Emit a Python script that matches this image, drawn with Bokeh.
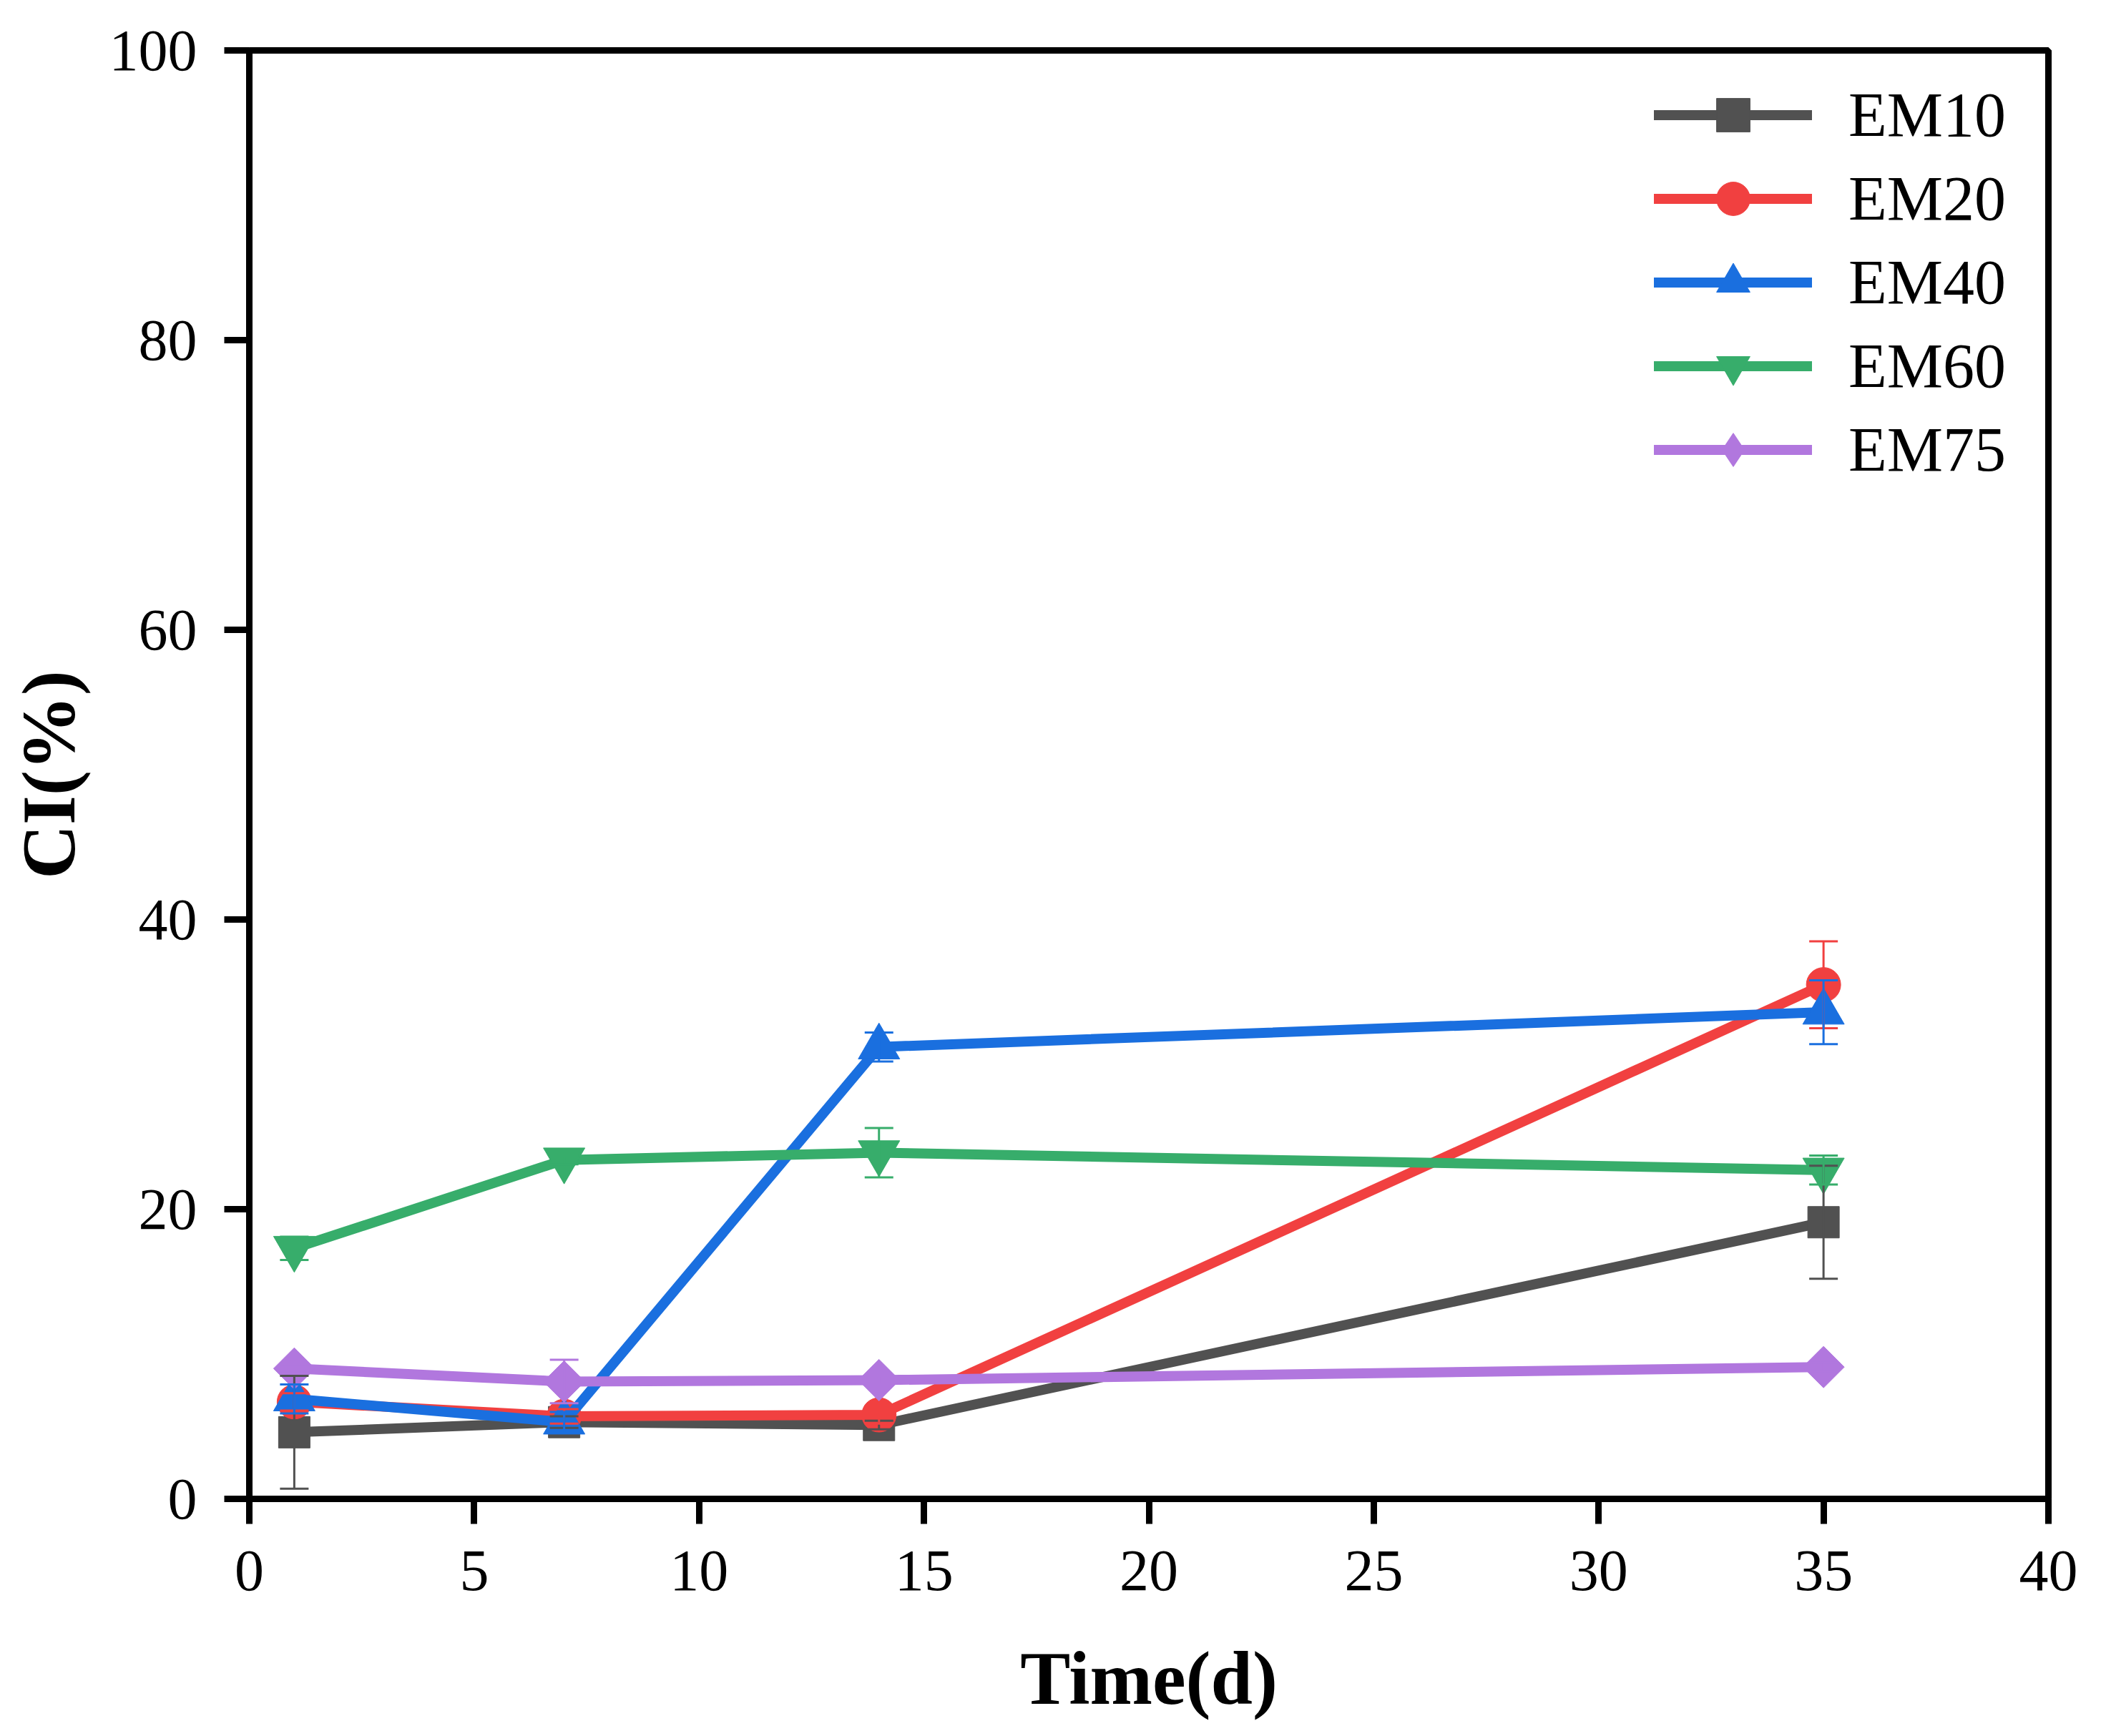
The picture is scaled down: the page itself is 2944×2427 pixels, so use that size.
import math
from bokeh.plotting import figure
from bokeh.models import ColumnDataSource, Whisker, TeeHead, FixedTicker, Range1d, Legend
from bokeh.embed import file_html
from bokeh.resources import INLINE

# ---- data ----
days = [1, 7, 14, 35]
series_names = ["EM10", "EM20", "EM40", "EM60", "EM75"]
em10 = [4.6, 5.3, 5.1, 19.1]
em20 = [6.7, 5.7, 5.8, 35.5]
em40 = [6.9, 5.3, 31.2, 33.6]
em60 = [17.3, 23.4, 23.9, 22.7]
em75 = [9.0, 8.1, 8.2, 9.1]
em10_err = [3.9, 0.4, 0.3, 3.9]
em20_err = [0.6, 0.5, 0.6, 3.0]
em40_err = [1.0, 0.7, 1.0, 2.2]
em60_err = [0.8, 0.3, 1.7, 1.0]
em75_err = [0.3, 1.5, 0.3, 0.3]
x_ticks = [0, 5, 10, 15, 20, 25, 30, 35, 40]
y_ticks = [0, 20, 40, 60, 80, 100]

values = [em10, em20, em40, em60, em75]
errors = [em10_err, em20_err, em40_err, em60_err, em75_err]
colors = ["#515151", "#F14040", "#1A6FDF", "#37AD6B", "#B177DE"]
markers = ["square", "circle", "triangle", "inverted_triangle", "square"]
legend_markers = ["square", "circle", "triangle", "inverted_triangle", "diamond"]
msizes = [44, 48, 58, 58, 41]
angles = [0, 0, 0, 0, math.pi / 4]

FONT = "Liberation Serif"

W, H = 2928, 2411
p = figure(width=W, height=H, output_backend="svg", toolbar_location=None,
           x_range=Range1d(0, 40), y_range=Range1d(0, 100),
           min_border_left=348, min_border_right=65, min_border_top=70, min_border_bottom=316)

p.grid.visible = False
p.outline_line_color = "black"
p.outline_line_width = 9
p.background_fill_color = "white"
p.border_fill_color = "white"

for ax, ticks in ((p.xaxis[0], x_ticks), (p.yaxis[0], y_ticks)):
    ax.ticker = FixedTicker(ticks=ticks)
    ax.axis_line_width = 9
    ax.axis_line_color = "black"
    ax.major_tick_line_width = 9
    ax.major_tick_line_color = "black"
    ax.major_tick_out = 35
    ax.major_tick_in = 0
    ax.minor_tick_line_color = None
    ax.major_label_text_font = FONT
    ax.major_label_text_font_size = "82px"
    ax.major_label_text_color = "black"
    ax.axis_label_text_font = FONT
    ax.axis_label_text_font_size = "105px"
    ax.axis_label_text_font_style = "bold"
    ax.axis_label_text_color = "black"

p.xaxis.axis_label = "Time(d)"
p.yaxis.axis_label = "CI(%)"
p.xaxis.major_label_standoff = 38
p.yaxis.major_label_standoff = 38
p.xaxis.axis_label_standoff = 62
p.yaxis.axis_label_standoff = 23

legend_items = []
for name, vals, errs, col, mk, lmk, ms, ang in zip(series_names, values, errors, colors,
                                                   markers, legend_markers, msizes, angles):
    src = ColumnDataSource(dict(x=days, y=vals,
                                upper=[v + e for v, e in zip(vals, errs)],
                                lower=[v - e for v, e in zip(vals, errs)]))
    ln = p.line("x", "y", source=src, line_color=col, line_width=14,
                line_join="round", line_cap="round")
    sc = p.scatter("x", "y", source=src, marker=mk, size=ms, angle=ang,
                   fill_color=col, line_color=col, line_width=1)
    if lmk != mk:
        # legend-only glyph with the diamond shape (its single point is NaN, so nothing is plotted)
        lg = p.scatter(x=[float("nan")], y=[float("nan")], marker=lmk, size=10,
                       fill_color=col, line_color=col)
        legend_items.append((name, [ln, lg]))
    else:
        legend_items.append((name, [ln, sc]))
    wk = Whisker(base="x", upper="upper", lower="lower", source=src,
                 line_color=col, line_width=3, level="overlay",
                 upper_head=TeeHead(size=40, line_color=col, line_width=3),
                 lower_head=TeeHead(size=40, line_color=col, line_width=3))
    p.add_layout(wk)

legend = Legend(items=legend_items, location=(1964, 1408))
legend.glyph_width = 221
legend.glyph_height = 117
legend.label_height = 117
legend.label_standoff = 51
legend.spacing = 0
legend.padding = 0
legend.margin = 0
legend.border_line_color = None
legend.background_fill_alpha = 0
legend.label_text_font = FONT
legend.label_text_font_size = "88px"
legend.label_text_color = "black"
p.add_layout(legend, "center")

open("out.html", "w").write(file_html(p, INLINE))
